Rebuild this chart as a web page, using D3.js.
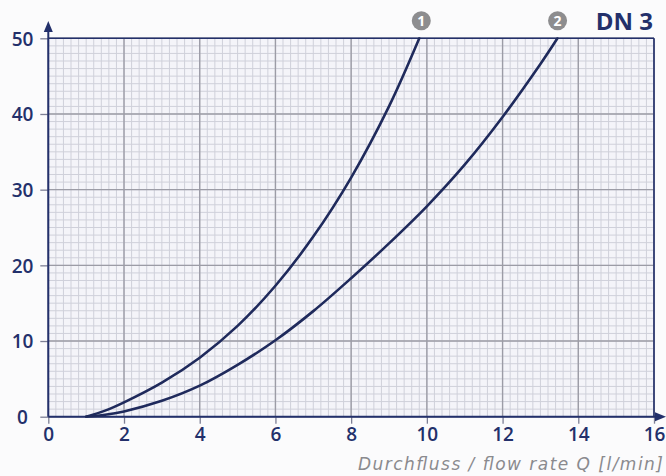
<!DOCTYPE html>
<html>
<head>
<meta charset="utf-8">
<script src="https://cdn.jsdelivr.net/npm/d3@7/dist/d3.min.js"></script>
<style>
  html, body { margin: 0; padding: 0; background: #fbfbfc; }
  svg { display: block; }
</style>
</head>
<body>
<script>
// ---- data ----
const xTicks = [0, 2, 4, 6, 8, 10, 12, 14, 16];
const yTicks = [0, 10, 20, 30, 40, 50];
const flow1 = [1, 1.5, 2, 3, 4, 5, 6, 7, 8, 9, 9.8];
const dp1   = [0, 0.8, 1.9, 4.5, 7.8, 12.0, 17.3, 23.8, 31.6, 41.0, 50];
const flow2 = [1, 1.5, 2, 3, 4, 5, 6, 7, 8, 9, 10, 11, 12, 13, 13.45];
const dp2   = [0, 0.25, 0.7, 2.1, 4.1, 6.85, 10.1, 13.95, 18.3, 22.9, 27.8, 33.3, 39.6, 46.6, 50];
const seriesLabels = ["1", "2"];
const seriesLabelX = [9.8, 13.4];
const title = "DN 3";
const xTitle = "Durchfluss / flow rate Q [l/min]";

(function () {
const W = 666, H = 476;
const pL = 48.3, pR = 654, pT = 38.3, pB = 416.7;

const svg = d3.select("body").append("svg").attr("width", W).attr("height", H);
const x = d3.scaleLinear().domain([0, 16]).range([pL, pR]);
const y = d3.scaleLinear().domain([0, 50]).range([pB, pT]);

const navy = "#23306b";

// plot background
svg.append("rect").attr("x", pL).attr("y", pT)
  .attr("width", pR - pL).attr("height", pB - pT).attr("fill", "#f4f4f9");

// minor grid
const minorX = d3.range(0, 16.001, 0.2);
const minorY = d3.range(0, 50.001, 1);
const g = svg.append("g");
g.selectAll("line.mx").data(minorX).join("line").attr("class", "mx")
  .attr("x1", d => x(d)).attr("x2", d => x(d)).attr("y1", pT).attr("y2", pB)
  .attr("stroke", "#cfd0da").attr("stroke-width", 1);
g.selectAll("line.my").data(minorY).join("line").attr("class", "my")
  .attr("y1", d => y(d)).attr("y2", d => y(d)).attr("x1", pL).attr("x2", pR)
  .attr("stroke", "#cfd0da").attr("stroke-width", 1);
// major grid
g.selectAll("line.Mx").data(xTicks).join("line").attr("class", "Mx")
  .attr("x1", d => x(d)).attr("x2", d => x(d)).attr("y1", pT).attr("y2", pB)
  .attr("stroke", "#9c9ca6").attr("stroke-width", 1.4);
g.selectAll("line.My").data(yTicks).join("line").attr("class", "My")
  .attr("y1", d => y(d)).attr("y2", d => y(d)).attr("x1", pL).attr("x2", pR)
  .attr("stroke", "#9c9ca6").attr("stroke-width", 1.4);

// frame top/right
svg.append("line").attr("x1", pL).attr("x2", pR).attr("y1", pT).attr("y2", pT)
  .attr("stroke", navy).attr("stroke-width", 1.6);
svg.append("line").attr("x1", pR).attr("x2", pR).attr("y1", pT).attr("y2", pB)
  .attr("stroke", navy).attr("stroke-width", 1.6);

// axes
const xAxis = d3.axisBottom(x).tickValues(xTicks).tickSize(7).tickFormat(d3.format("d"));
const yAxis = d3.axisLeft(y).tickValues(yTicks).tickSize(8).tickFormat(d3.format("d"));
const gx = svg.append("g").attr("transform", `translate(0,${pB})`).call(xAxis);
const gy = svg.append("g").attr("transform", `translate(${pL},0)`).call(yAxis);
[gx, gy].forEach(a => {
  a.select(".domain").remove();
  a.selectAll(".tick line").attr("stroke", "#7d7f95").attr("stroke-width", 1.3);
  a.selectAll(".tick text").attr("fill", navy)
    .style("font-family", "'Open Sans', sans-serif").style("font-size", "19px")
    .style("font-weight", "600");
});
gx.selectAll(".tick text").attr("y", 11).attr("dy", "0.71em");
gy.selectAll(".tick text").attr("x", 22.5 - pL).attr("text-anchor", "middle").attr("dy", "0.36em");

// axis lines with arrows
svg.append("line").attr("x1", pL).attr("x2", pL).attr("y1", pB).attr("y2", 30)
  .attr("stroke", navy).attr("stroke-width", 2);
svg.append("line").attr("x1", pL).attr("x2", 658).attr("y1", pB).attr("y2", pB)
  .attr("stroke", navy).attr("stroke-width", 2);
svg.append("path").attr("d", `M${pL},21 L${pL - 4.5},32 L${pL + 4.5},32 Z`).attr("fill", navy);
svg.append("path").attr("d", `M666,${pB} L655,${pB - 4.5} L655,${pB + 4.5} Z`).attr("fill", navy);

// curves
svg.append("clipPath").attr("id", "clip").append("rect")
  .attr("x", pL).attr("y", pT - 1).attr("width", pR - pL).attr("height", pB - pT + 2);
const line = d3.line().x(d => x(d[0])).y(d => y(d[1])).curve(d3.curveCatmullRom.alpha(0.5));
[[flow1, dp1], [flow2, dp2]].forEach(([fx, fy]) => {
  svg.append("path").datum(fx.map((v, i) => [v, fy[i]]))
    .attr("d", line).attr("fill", "none").attr("stroke", "#1f2a5c")
    .attr("stroke-width", 2.6).attr("stroke-linecap", "round").attr("clip-path", "url(#clip)");
});

// series markers
seriesLabels.forEach((s, i) => {
  const cx = x(seriesLabelX[i]) + 2, cy = 20.7;
  svg.append("circle").attr("cx", cx).attr("cy", cy).attr("r", 9.5).attr("fill", "#8d8d8f");
  svg.append("text").attr("x", cx).attr("y", cy).attr("dy", "0.36em").attr("text-anchor", "middle")
    .attr("fill", "#ffffff").style("font-family", "'Open Sans', sans-serif")
    .style("font-size", "14px").style("font-weight", "bold").text(s);
});

// title
svg.append("text").attr("x", 653).attr("y", 29.5).attr("text-anchor", "end")
  .attr("fill", navy).style("font-family", "'Open Sans', sans-serif")
  .style("font-size", "24px").style("font-weight", "bold").text(title);

// x title
svg.append("text").attr("x", 663).attr("y", 470).attr("text-anchor", "end")
  .attr("fill", "#8a8a8e").style("font-family", "'DejaVu Sans', sans-serif")
  .style("font-size", "17px").style("font-style", "italic")
  .attr("textLength", 305).attr("lengthAdjust", "spacing").text(xTitle);
})();
</script>
</body>
</html>
